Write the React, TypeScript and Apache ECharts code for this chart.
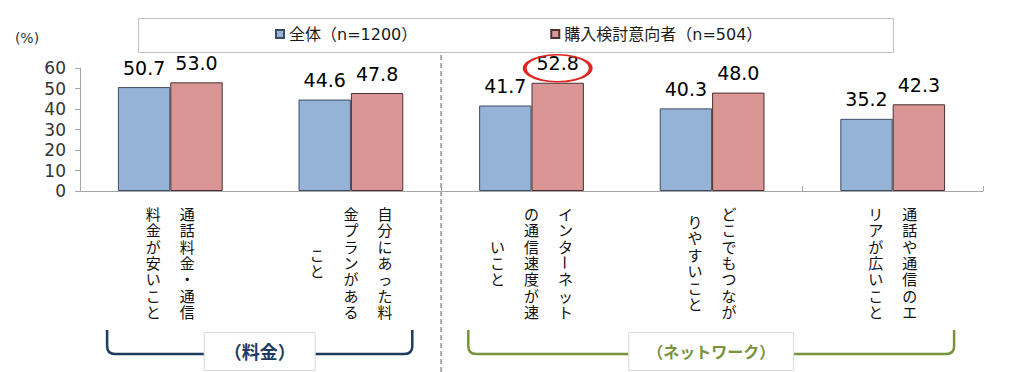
import React, { useEffect, useRef } from "react";
import * as echarts from "echarts";

// ---- data ----
const categories = [
  "通話料金・通信料金が安いこと",
  "自分にあった料金プランがあること",
  "インターネットの通信速度が速いこと",
  "どこでもつながりやすいこと",
  "通話や通信のエリアが広いこと",
];
const seriesNames = ["全体（n=1200）", "購入検討意向者（n=504）"];
const totalValues = [50.7, 44.6, 41.7, 40.3, 35.2];
const intentValues = [53.0, 47.8, 52.8, 48.0, 42.3];
const yMin = 0;
const yMax = 60;
const yInterval = 10;
const unitLabel = "(%)";
const groupLabels = ["（料金）", "（ネットワーク）"];
const groupRanges = [
  [0, 1],
  [2, 4],
];
const highlightCategory = 2; // 52.8 is circled
const CHARS_PER_COLUMN = 7;

// ---- styles ----
const JP = "'Noto Sans CJK JP', 'Noto Sans', sans-serif";
const NUM = "'DejaVu Sans', 'Noto Sans CJK JP', sans-serif";
const BLUE = "#95B3D7";
const RED = "#D99694";
const AXIS = "#A6A6A6";
const NAVY = "#1F3A5F";
const GREEN = "#77933C";
const groupColors = [NAVY, GREEN];

const Bracket = (echarts as any).graphic.extendShape({
  shape: { x1: 0, x2: 0, y1: 0, y2: 0, r: 8 },
  buildPath(ctx: any, s: any) {
    ctx.moveTo(s.x1, s.y1);
    ctx.lineTo(s.x1, s.y2 - s.r);
    ctx.quadraticCurveTo(s.x1, s.y2, s.x1 + s.r, s.y2);
    ctx.lineTo(s.x2 - s.r, s.y2);
    ctx.quadraticCurveTo(s.x2, s.y2, s.x2, s.y2 - s.r);
    ctx.lineTo(s.x2, s.y1);
  },
});
(echarts as any).graphic.registerShape("bracket", Bracket);

function splitColumns(s: string): string[][] {
  const arr = Array.from(s);
  const cols: string[][] = [];
  for (let i = 0; i < arr.length; i += CHARS_PER_COLUMN) cols.push(arr.slice(i, i + CHARS_PER_COLUMN));
  return cols;
}

export default function App() {
  const ref = useRef<HTMLDivElement>(null);
  useEffect(() => {
    const el = ref.current!;
    const chart = echarts.init(el, undefined, { renderer: "svg" });
    const labelStyle = {
      show: true,
      position: "top",
      distance: 10,
      fontSize: 19,
      fontFamily: NUM,
      color: "#000",
      formatter: (p: any) => Number(p.value).toFixed(1),
    };
    const option: any = {
      animation: false,
      backgroundColor: "#fff",
      legend: {
        left: 275,
        top: 26,
        padding: 0,
        icon: "rect",
        itemWidth: 8,
        itemHeight: 8,
        itemGap: 133,
        textStyle: { fontSize: 16, fontFamily: NUM, color: "#1a1a1a" },
        data: seriesNames,
      },
      grid: { left: 80, right: 41, top: 68, bottom: 181 },
      xAxis: {
        type: "category",
        data: categories,
        axisLine: { lineStyle: { color: AXIS, width: 1 } },
        axisTick: { show: true, inside: true, length: 5, lineStyle: { color: AXIS } },
        axisLabel: { show: false },
      },
      yAxis: {
        type: "value",
        min: yMin,
        max: yMax,
        interval: yInterval,
        splitLine: { show: false },
        axisLine: { show: true, lineStyle: { color: AXIS, width: 1 } },
        axisTick: { show: true, length: 5, lineStyle: { color: AXIS } },
        axisLabel: { fontSize: 17, fontFamily: NUM, color: "#333", margin: 14 },
      },
      series: [
        {
          name: seriesNames[0],
          type: "bar",
          data: totalValues,
          barGap: "0%",
          barCategoryGap: "42%",
          itemStyle: { color: BLUE, borderColor: "#3E4C63", borderWidth: 1 },
          label: labelStyle,
        },
        {
          name: seriesNames[1],
          type: "bar",
          data: intentValues,
          barGap: "0%",
          barCategoryGap: "42%",
          itemStyle: { color: RED, borderColor: "#4A3030", borderWidth: 1 },
          label: labelStyle,
          markPoint: {
            silent: true,
            symbol: "circle",
            symbolSize: [66, 27],
            symbolOffset: [0, -14.5],
            label: { show: false },
            itemStyle: { color: "rgba(0,0,0,0)", borderColor: "#E0241F", borderWidth: 2.5 },
            data: [{ coord: [categories[highlightCategory], intentValues[highlightCategory]] }],
          },
        },
      ],
    };
    chart.setOption(option);

    const cx = categories.map((c) => chart.convertToPixel({ xAxisIndex: 0 }, c) as number);
    const step = cx[1] - cx[0];
    const axisY = chart.convertToPixel({ yAxisIndex: 0 }, 0) as number;
    const topY = chart.convertToPixel({ yAxisIndex: 0 }, yMax) as number;

    const g: any[] = [];
    // legend frame
    g.push({
      type: "rect",
      z: -1,
      shape: { x: 138.5, y: 18.5, width: 755, height: 34 },
      style: { fill: "#fff", stroke: "#BFBFBF", lineWidth: 1 },
    });
    // unit
    g.push({
      type: "text",
      x: 27,
      y: 38,
      style: { text: unitLabel, align: "center", verticalAlign: "middle", fontSize: 14, fontFamily: NUM, fill: "#333" },
    });
    // dashed separator between groups
    const sepX = (cx[groupRanges[0][1]] + cx[groupRanges[1][0]]) / 2;
    g.push({
      type: "line",
      shape: { x1: sepX, y1: topY - 13, x2: sepX, y2: 372 },
      style: { stroke: AXIS, lineWidth: 2, lineDash: [5, 3] },
    });

    // vertical category labels
    const pitch = 16.4;
    const colGap = 34;
    const centerY = axisY + 71.5;
    const fsCat = 15;
    categories.forEach((name, i) => {
      const cols = splitColumns(name);
      const m = cols.length;
      cols.forEach((chars, j) => {
        const x = cx[i] + ((m - 1) / 2 - j) * colGap;
        const n = chars.length;
        const y0 = centerY - ((n - 1) / 2) * pitch;
        let run: string[] = [];
        let start = 0;
        const flush = () => {
          if (run.length) {
            g.push({
              type: "text",
              x,
              y: y0 + (start + (run.length - 1) / 2) * pitch,
              style: {
                text: run.join("\n"),
                align: "center",
                verticalAlign: "middle",
                lineHeight: pitch,
                fontSize: fsCat,
                fontFamily: JP,
                fill: "#111",
              },
            });
          }
          run = [];
        };
        chars.forEach((ch, k) => {
          if (ch === "ー") {
            flush();
            g.push({
              type: "text",
              x,
              y: y0 + k * pitch,
              rotation: -Math.PI / 2,
              style: { text: ch, align: "center", verticalAlign: "middle", fontSize: fsCat, fontFamily: JP, fill: "#111" },
            });
            start = k + 1;
          } else {
            if (!run.length) start = k;
            run.push(ch);
          }
        });
        flush();
      });
    });

    // group brackets
    groupRanges.forEach(([a, b], gi) => {
      const x1 = cx[a] - step * 0.35;
      const x2 = cx[b] + step * 0.34;
      const mid = (x1 + x2) / 2;
      const color = groupColors[gi];
      const fs = gi === 0 ? 18 : 16;
      const boxW = gi === 0 ? 111 : 165;
      g.push({
        type: "bracket",
        shape: { x1, x2, y1: 330, y2: 354, r: 8 },
        style: { fill: "none", stroke: color, lineWidth: 2.5 },
      });
      g.push({
        type: "rect",
        shape: { x: mid - boxW / 2, y: 332.5, width: boxW, height: 38 },
        style: { fill: "#fff", stroke: "#D9D9D9", lineWidth: 1 },
      });
      g.push({
        type: "text",
        x: mid,
        y: 351,
        style: {
          text: groupLabels[gi],
          align: "center",
          verticalAlign: "middle",
          fontSize: fs,
          fontWeight: "bold",
          fontFamily: JP,
          fill: color,
        },
      });
    });

    chart.setOption({ graphic: g });
    return () => chart.dispose();
  }, []);
  return (
    <div
      ref={ref}
      style={{ position: "absolute", left: 0, top: 0, width: 1024, height: 372, background: "#fff" }}
    />
  );
}
